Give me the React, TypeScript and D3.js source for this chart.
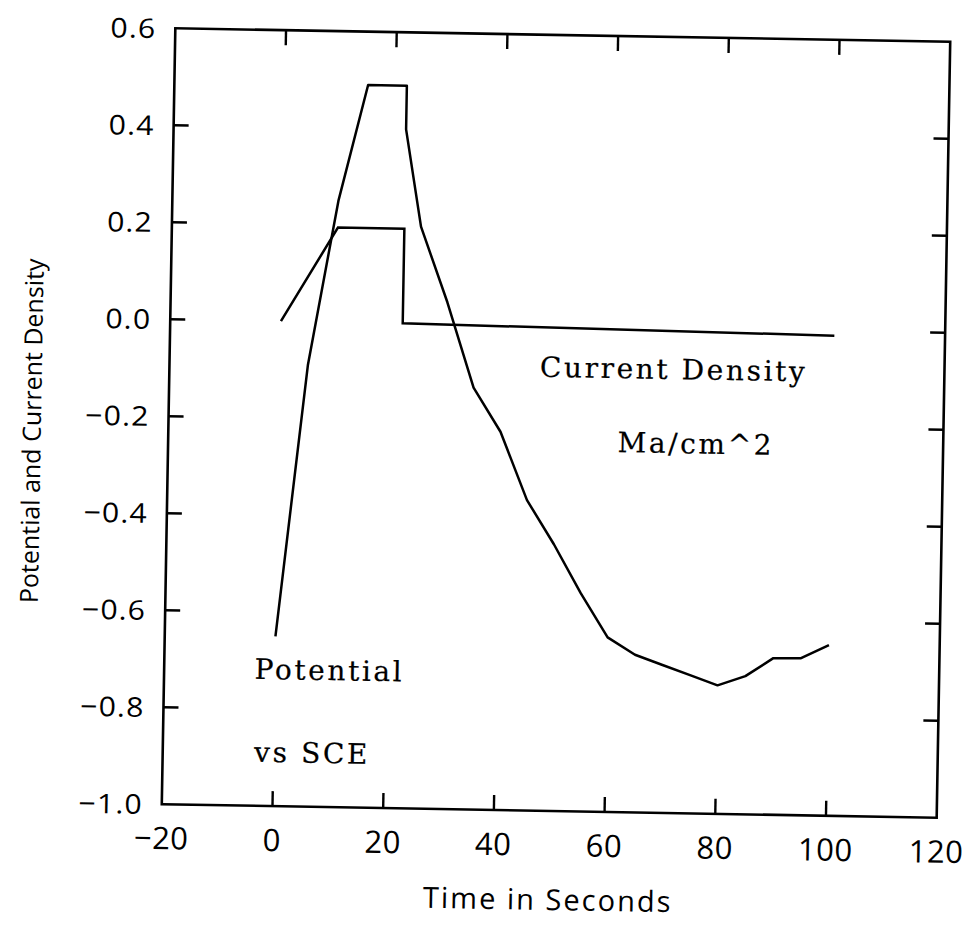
import React from "react";
import * as d3 from "d3";

const timeTicks = [-20, 0, 20, 40, 60, 80, 100, 120];
const valueTicks = [-1.0, -0.8, -0.6, -0.4, -0.2, 0.0, 0.2, 0.4, 0.6];

const potentialTime = [0, 5, 10, 15, 22, 22, 25, 30, 35, 40, 45, 50, 55, 60, 65, 70, 75, 80, 85, 90, 95, 100];
const potentialValue = [-0.65, -0.09, 0.25, 0.49, 0.49, 0.4, 0.2, 0.045, -0.13, -0.22, -0.36, -0.45, -0.55, -0.64, -0.675, -0.695, -0.715, -0.735, -0.715, -0.677, -0.676, -0.648];

const currentTime = [0, 10, 22, 22, 100];
const currentValue = [0, 0.195, 0.195, 0, -0.01];

const W = 974;
const H = 926;
const L = 168.5, R = 943.5, T = 35, B = 811;

const fmtTick = (v: number) => (v < 0 ? "\u2212" : "") + Math.abs(v).toFixed(1);
const fmtTime = (v: number) => (v < 0 ? "\u2212" : "") + Math.abs(v).toString();

export default function App() {
  const x = d3.scaleLinear().domain([-20, 120]).range([L, R]);
  const y = d3.scaleLinear().domain([-1.0, 0.6]).range([B, T]);
  const line = d3
    .line<[number, number]>()
    .x((d) => x(d[0]))
    .y((d) => y(d[1]));
  const potential = potentialTime.map((t, i) => [t, potentialValue[i]] as [number, number]);
  const current = currentTime.map((t, i) => [t, currentValue[i]] as [number, number]);
  const innerX = timeTicks.slice(1, -1);
  const innerY = valueTicks.slice(1, -1);
  const tick = 15;
  const sans = "'Open Sans', 'Liberation Sans', Arial, sans-serif";
  const serif = "'DejaVu Serif', serif";

  return (
    <svg
      width={W}
      height={H}
      viewBox={`0 0 ${W} ${H}`}
      style={{ position: "absolute", left: 0, top: 0, background: "#fff" }}
    >
      <rect x={0} y={0} width={W} height={H} fill="#fff" />
      <g transform={`rotate(1.0, ${(L + R) / 2}, ${(T + B) / 2})`}>
        {/* frame */}
        <rect x={L} y={T} width={R - L} height={B - T} fill="none" stroke="#000" strokeWidth={2.6} />
        {/* ticks */}
        {innerX.map((t) => (
          <g key={"xt" + t} stroke="#000" strokeWidth={2.4}>
            <line x1={x(t)} x2={x(t)} y1={B} y2={B - tick} />
            <line x1={x(t)} x2={x(t)} y1={T} y2={T + tick} />
          </g>
        ))}
        {innerY.map((v) => (
          <g key={"yt" + v} stroke="#000" strokeWidth={2.4}>
            <line x1={L} x2={L + tick} y1={y(v)} y2={y(v)} />
            <line x1={R} x2={R - tick} y1={y(v)} y2={y(v)} />
          </g>
        ))}
        {/* tick labels */}
        {timeTicks.map((t) => (
          <text
            key={"xl" + t}
            x={x(t)}
            y={B + 45}
            textAnchor="middle"
            fontFamily={sans}
            fontSize={31}
            letterSpacing={0.5}
            fill="#000"
          >
            {fmtTime(t)}
          </text>
        ))}
        {valueTicks.map((v) => (
          <text
            key={"yl" + v}
            transform={`translate(${L - 19}, ${y(v) + 10}) scale(1.12, 1)`}
            textAnchor="end"
            fontFamily={sans}
            fontSize={27}
            letterSpacing={1}
            fill="#000"
          >
            {fmtTick(v)}
          </text>
        ))}
        {/* axis titles */}
        <text
          x={(L + R) / 2}
          y={910}
          textAnchor="middle"
          fontFamily={sans}
          fontSize={29}
          letterSpacing={2}
          fill="#000"
        >
          Time in Seconds
        </text>
        <text
          transform={`translate(41, 440) rotate(-90)`}
          textAnchor="middle"
          fontFamily={sans}
          fontSize={25}
          letterSpacing={0}
          fill="#000"
        >
          Potential and Current Density
        </text>
        {/* data */}
        <path d={line(current) || ""} fill="none" stroke="#000" strokeWidth={2.5} strokeLinejoin="miter" />
        <path d={line(potential) || ""} fill="none" stroke="#000" strokeWidth={2.5} strokeLinejoin="round" />
        {/* annotations */}
        <g fontFamily={serif} fontSize={28} letterSpacing={2.6} fill="#000" stroke="#000" strokeWidth={0.2}>
          <text x={539} y={377}>Current Density</text>
          <text x={618} y={451}>Ma/cm^2</text>
          <text x={259} y={684}>Potential</text>
          <text x={260} y={767}>vs SCE</text>
        </g>
      </g>
    </svg>
  );
}
